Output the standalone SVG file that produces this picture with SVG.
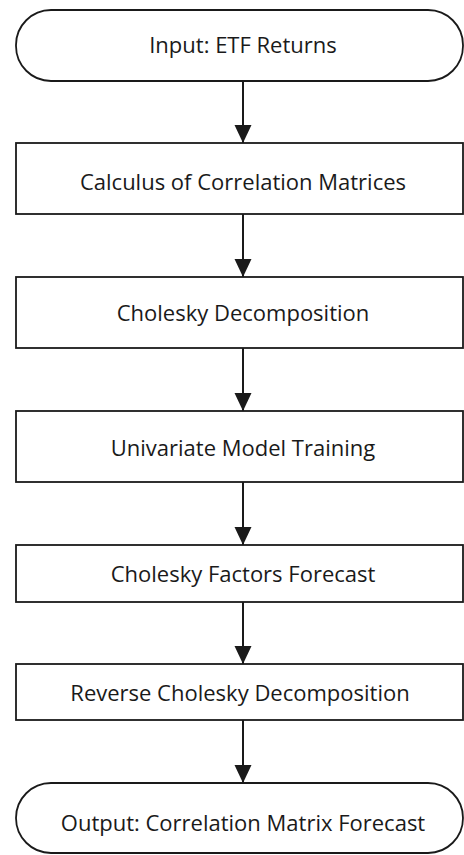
<svg xmlns="http://www.w3.org/2000/svg" width="464" height="855" viewBox="0 0 464 855">
<defs>
<style>
.n{fill:#fff;stroke:#1a1a1a;stroke-width:1.8}
.t{font-family:"Open Sans","Liberation Sans",sans-serif;font-size:22px;fill:#1a1a1a;text-anchor:middle}
.c{stroke:#1a1a1a;stroke-width:2;fill:none}
</style>
<marker id="ah" markerUnits="userSpaceOnUse" markerWidth="18" markerHeight="18" viewBox="0 0 18 18" refX="18" refY="9" orient="auto">
<path d="M0,0.5 L18,9 L0,17.5 Z" fill="#1a1a1a"/>
</marker>
</defs>
<rect width="464" height="855" fill="#fff"/>
<g id="connectors">
<line class="c" x1="243" y1="81" x2="243" y2="143" marker-end="url(#ah)"/>
<line class="c" x1="243" y1="214" x2="243" y2="277" marker-end="url(#ah)"/>
<line class="c" x1="243" y1="348" x2="243" y2="411" marker-end="url(#ah)"/>
<line class="c" x1="243" y1="482" x2="243" y2="545" marker-end="url(#ah)"/>
<line class="c" x1="243" y1="602" x2="243" y2="664" marker-end="url(#ah)"/>
<line class="c" x1="243" y1="720" x2="243" y2="783" marker-end="url(#ah)"/>
</g>
<g id="input">
<rect class="n" x="16" y="10" width="447" height="71" rx="35" ry="35"/>
<text class="t" x="243" y="53">Input: ETF Returns</text>
</g>
<g id="calculus">
<rect class="n" x="16" y="143" width="447" height="71"/>
<text class="t" x="243" y="190">Calculus of Correlation Matrices</text>
</g>
<g id="cholesky">
<rect class="n" x="16" y="277" width="447" height="71"/>
<text class="t" x="243" y="321">Cholesky Decomposition</text>
</g>
<g id="univariate">
<rect class="n" x="16" y="411" width="447" height="71"/>
<text class="t" x="243" y="456">Univariate Model Training</text>
</g>
<g id="factors">
<rect class="n" x="16" y="545" width="447" height="57"/>
<text class="t" x="243" y="582">Cholesky Factors Forecast</text>
</g>
<g id="reverse">
<rect class="n" x="16" y="664" width="447" height="56"/>
<text class="t" x="240" y="701">Reverse Cholesky Decomposition</text>
</g>
<g id="output">
<rect class="n" x="16" y="783" width="447" height="70" rx="35" ry="35"/>
<text class="t" x="243" y="831">Output: Correlation Matrix Forecast</text>
</g>
</svg>
